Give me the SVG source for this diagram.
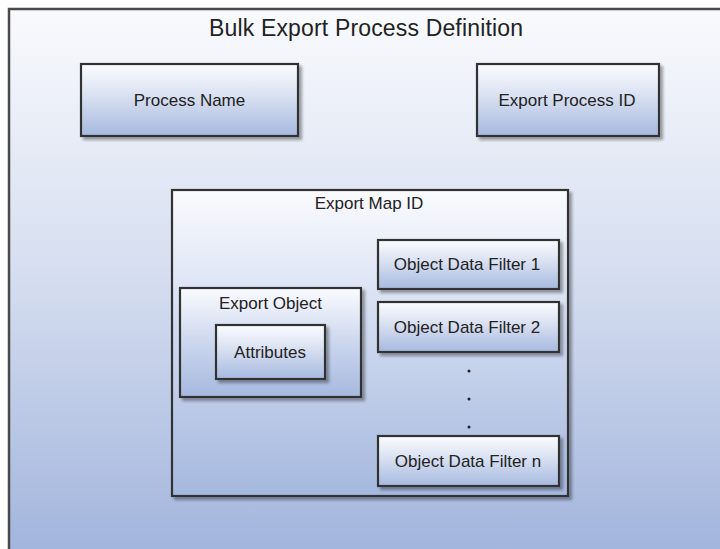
<svg xmlns="http://www.w3.org/2000/svg" width="720" height="549" viewBox="0 0 720 549">
<defs>
<linearGradient id="bg" x1="0" y1="0" x2="0" y2="1">
<stop offset="0" stop-color="#f9fafd"/>
<stop offset="0.5" stop-color="#d3dcef"/>
<stop offset="1" stop-color="#9fb2db"/>
</linearGradient>
<linearGradient id="box" x1="0" y1="0" x2="0" y2="1">
<stop offset="0" stop-color="#fbfcfe"/>
<stop offset="0.45" stop-color="#d8e0f1"/>
<stop offset="1" stop-color="#a6b9df"/>
</linearGradient>
<linearGradient id="cont" x1="0" y1="0" x2="0" y2="1">
<stop offset="0" stop-color="#fafbfe"/>
<stop offset="0.5" stop-color="#ccd7ee"/>
<stop offset="1" stop-color="#a5b8de"/>
</linearGradient>
<filter id="sh" x="-10%" y="-10%" width="130%" height="130%">
<feGaussianBlur in="SourceAlpha" stdDeviation="1.5"/>
<feOffset dx="3" dy="3" result="o"/>
<feComponentTransfer><feFuncA type="linear" slope="0.35"/></feComponentTransfer>
<feMerge><feMergeNode/><feMergeNode in="SourceGraphic"/></feMerge>
</filter>
</defs>
<style>
.b{fill:url(#box);stroke:#333;stroke-width:2.2;filter:url(#sh)}
.c{fill:url(#cont);stroke:#333;stroke-width:2.2;filter:url(#sh)}
text{font-family:"Liberation Sans",Arial,sans-serif;fill:#222;text-anchor:middle}
.t{font-size:17px}
.d{fill:#222}
</style>
<rect width="720" height="549" fill="#ffffff"/>
<g id="frame">
<rect x="9" y="9" width="730" height="560" fill="url(#bg)" stroke="#4a4a4a" stroke-width="2.5"/>
<text x="366" y="36" font-size="23" textLength="314">Bulk Export Process Definition</text>
</g>
<g id="process-name">
<rect class="b" x="81" y="64" width="217" height="72"/>
<text class="t" x="189.5" y="106">Process Name</text>
</g>
<g id="export-process-id">
<rect class="b" x="477" y="64" width="182" height="72"/>
<text class="t" x="567" y="106">Export Process ID</text>
</g>
<g id="export-map-id">
<rect class="c" x="172" y="190" width="396" height="306"/>
<text class="t" x="369" y="209">Export Map ID</text>
</g>
<g id="export-object">
<rect class="c" x="180" y="288" width="181" height="109"/>
<text class="t" x="270.5" y="309">Export Object</text>
</g>
<g id="attributes">
<rect class="b" x="216" y="325" width="109" height="54"/>
<text class="t" x="270" y="358">Attributes</text>
</g>
<g id="filter-1">
<rect class="b" x="378" y="240" width="181" height="49"/>
<text class="t" x="467" y="270">Object Data Filter 1</text>
</g>
<g id="filter-2">
<rect class="b" x="378" y="302" width="181" height="50"/>
<text class="t" x="467" y="333">Object Data Filter 2</text>
</g>
<g id="filter-n">
<rect class="b" x="378" y="436" width="181" height="50"/>
<text class="t" x="468" y="467">Object Data Filter n</text>
</g>
<g id="connectors">
<circle class="d" cx="469" cy="371" r="1.5"/>
<circle class="d" cx="469" cy="399" r="1.5"/>
<circle class="d" cx="469" cy="427" r="1.5"/>
</g>
</svg>
